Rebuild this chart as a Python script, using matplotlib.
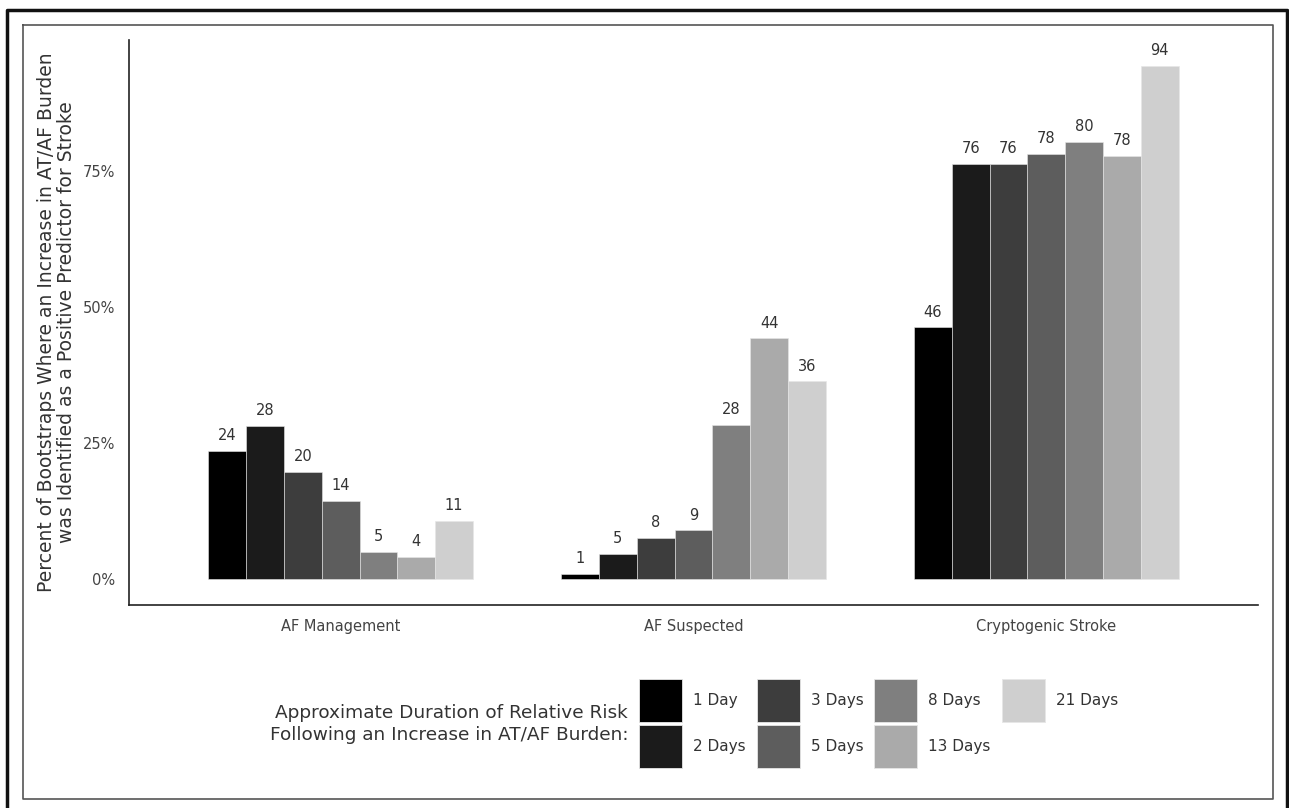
import matplotlib
matplotlib.use("Agg")
import matplotlib.pyplot as plt
from matplotlib.patches import Patch
from matplotlib.lines import Line2D
import numpy as np

plt.rcParams["font.family"] = ["DejaVu Sans"]

categories = ["AF Management", "AF Suspected", "Cryptogenic Stroke"]
durations = ["1 Day", "2 Days", "3 Days", "5 Days", "8 Days", "13 Days", "21 Days"]
colors = ["#000000", "#1b1b1b", "#3d3d3d", "#5d5d5d", "#7f7f7f", "#aaaaaa", "#cfcfcf"]

# percent values per duration (rows) across categories (cols)
val_1d = [23.6, 1.0, 46.3]
val_2d = [28.2, 4.7, 76.4]
val_3d = [19.7, 7.6, 76.4]
val_5d = [14.4, 9.0, 78.2]
val_8d = [5.0, 28.4, 80.4]
val_13d = [4.1, 44.3, 77.8]
val_21d = [10.8, 36.4, 94.4]
series = [val_1d, val_2d, val_3d, val_5d, val_8d, val_13d, val_21d]

yticks = [0, 25, 50, 75]
ytick_labels = ["0%", "25%", "50%", "75%"]

W, H = 1289, 808
fig = plt.figure(figsize=(W / 100, H / 100), dpi=100)
ax = fig.add_axes([129 / W, 1 - 605 / H, (1258 - 129) / W, (605 - 40) / H])

n = len(series)
dodge = 0.75
bw = dodge / n
x = np.arange(1, len(categories) + 1)
for i, (vals, c) in enumerate(zip(series, colors)):
    pos = x - dodge / 2 + bw * (i + 0.5)
    ax.bar(pos, vals, width=bw, color=c, edgecolor="#e6e6e6", linewidth=0.4)
    for px, v in zip(pos, vals):
        ax.annotate(f"{round(v)}", (px, v), xytext=(0, 5.5), textcoords="offset points",
                    ha="center", va="bottom", fontsize=10.5, color="#333333")

ymax = max(max(s) for s in series)
ax.set_ylim(-0.05 * ymax, ymax * 1.05)
ax.set_xlim(0.4, 3.6)
ax.set_xticks(x)
ax.set_xticklabels(categories)
ax.set_yticks(yticks)
ax.set_yticklabels(ytick_labels)
ax.tick_params(axis="both", length=0, labelsize=10.5, labelcolor="#444444", pad=10)
for s in ["top", "right"]:
    ax.spines[s].set_visible(False)
for s in ["left", "bottom"]:
    ax.spines[s].set_color("#222222")
    ax.spines[s].set_linewidth(1.2)
ax.set_ylabel("Percent of Bootstraps Where an Increase in AT/AF Burden\nwas Identified as a Positive Predictor for Stroke",
              fontsize=13.5, color="#333333", labelpad=5, linespacing=1.05)

fs_leg = 11
px_leg = fs_leg * 100 / 72
key_px = 43
hl = key_px / px_leg
hh = (key_px / px_leg - 0.245) / 0.65
handles = [Patch(facecolor=c, edgecolor="#e6e6e6", linewidth=0.6, label=d) for c, d in zip(colors, durations)]
fig.legend(handles=handles, ncol=4, loc="upper left",
           bbox_to_anchor=(639 / W, 1 - 679 / H), bbox_transform=fig.transFigure,
           frameon=False, fontsize=fs_leg, borderpad=0, borderaxespad=0,
           handlelength=hl, handleheight=hh, labelspacing=3.4 / px_leg,
           handletextpad=11 / px_leg, columnspacing=11 / px_leg, labelcolor="#333333")
fig.text(628 / W, 1 - 724 / H,
         "Approximate Duration of Relative Risk\nFollowing an Increase in AT/AF Burden:",
         ha="right", va="center", multialignment="right", fontsize=13.3, color="#333333",
         linespacing=1.3)

# inner gray frame
fx = [23 / W, 1273 / W, 1273 / W, 23 / W, 23 / W]
fy = [1 - 25 / H, 1 - 25 / H, 1 - 799 / H, 1 - 799 / H, 1 - 25 / H]
fig.add_artist(Line2D(fx, fy, transform=fig.transFigure, color="#555555", linewidth=1.2))
# outer black frame (bottom edge cut off)
ox = [7 / W, 7 / W, 1287 / W, 1287 / W]
oy = [-0.01, 1 - 9.5 / H, 1 - 9.5 / H, -0.01]
fig.add_artist(Line2D(ox, oy, transform=fig.transFigure, color="#111111", linewidth=2.5))

fig.savefig("out.png", dpi=100, facecolor="white")
